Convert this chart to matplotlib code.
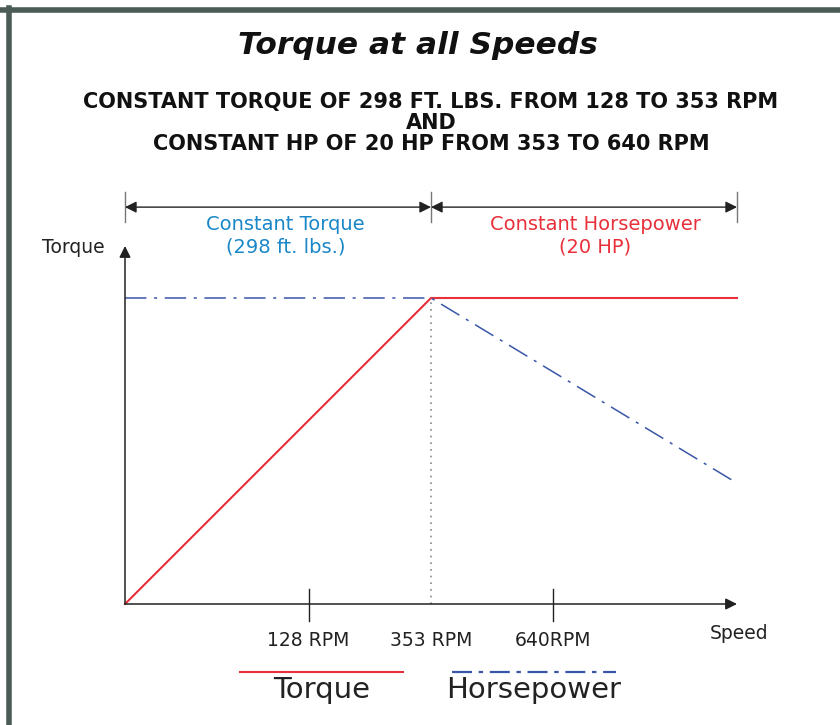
import numpy as np
import matplotlib.pyplot as plt
from matplotlib.lines import Line2D

plt.rcParams['font.family'] = ['DejaVu Sans']

# schematic speed axis (0 = origin, 1 = end of axis) and normalised torque
speed = [0.0, 0.5, 1.0]
torque = [0.0, 1.0, 1.0]
horsepower = [1.0, 1.0, 0.395]
tick_pos = [0.30, 0.50, 0.70]
tick_labels = ['128 RPM', '353 RPM', '640RPM']
marked_ticks = [0.30, 0.70]

title = 'Torque at all Speeds'
subtitle = ('CONSTANT TORQUE OF 298 FT. LBS. FROM 128 TO 353 RPM\nAND\n'
            'CONSTANT HP OF 20 HP FROM 353 TO 640 RPM')

red = '#e8303a'
blue = '#3a56a8'
cyan = '#1a87c9'
W, H = 840, 725

fig = plt.figure(figsize=(8.4, 7.25), dpi=100)
ax = fig.add_axes([125 / W, 1 - 604 / H, 612 / W, 306 / H])
ax.set_xlim(0, 1)
ax.set_ylim(0, 1)
ax.axis('off')

# frame around the figure
fig.add_artist(Line2D([0, 1], [1 - 9.5 / H] * 2, transform=fig.transFigure, color='#4b5b56', lw=4))
fig.add_artist(Line2D([8.5 / W] * 2, [0, 1 - 7.5 / H], transform=fig.transFigure, color='#4b5b56', lw=4))

# curves
ax.plot(speed, torque, color=red, lw=1.5, clip_on=False)
ax.plot(speed, horsepower, color=blue, lw=1.1, dashes=(14, 5, 2, 5), clip_on=False)
ax.plot([0.5, 0.5], [0, 1], color='#888888', lw=1.2, ls=(0, (1, 3)), clip_on=False)

# axes arrows
arrow_kw = dict(color='#222222', lw=1.1, mutation_scale=17, shrinkA=0, shrinkB=0)
ax.annotate('', xy=(1.0, 0), xytext=(0, 0), annotation_clip=False,
            arrowprops=dict(arrowstyle='-|>', **arrow_kw))
ax.annotate('', xy=(0, 1.17), xytext=(0, 0), annotation_clip=False,
            arrowprops=dict(arrowstyle='-|>', **arrow_kw))
for t in marked_ticks:
    ax.plot([t, t], [-0.055, 0.05], color='#222222', lw=1.0, clip_on=False)
for t, lab in zip(tick_pos, tick_labels):
    ax.text(t, -0.12, lab, ha='center', va='center', fontsize=13.5, color='#222222')
ax.text(-0.033, 1.165, 'Torque', ha='right', va='center', fontsize=13.5, color='#222222')
ax.text(1.003, -0.098, 'Speed', ha='center', va='center', fontsize=13.5, color='#222222')

# dimension arrows on top
dim_y = 1.297
for a, b in [(0, 0.5), (0.5, 1.0)]:
    ax.annotate('', xy=(a, dim_y), xytext=(b, dim_y), annotation_clip=False,
                arrowprops=dict(arrowstyle='<|-|>', color='#222222', lw=1.0, mutation_scale=17,
                                shrinkA=0, shrinkB=0))
for x in [0, 0.5, 1.0]:
    ax.plot([x, x], [1.248, 1.346], color='#777777', lw=1.0, clip_on=False)
ax.text(0.262, 1.203, 'Constant Torque\n(298 ft. lbs.)', ha='center', va='center',
        fontsize=14, color=cyan, linespacing=1.25)
ax.text(0.768, 1.203, 'Constant Horsepower\n(20 HP)', ha='center', va='center',
        fontsize=14, color=red, linespacing=1.25)

# titles
fig.text(418 / W, 1 - 46 / H, title, ha='center', va='center', fontsize=22.5,
         fontweight='bold', fontstyle='italic', color='#111111')
fig.text(431 / W, 1 - 123 / H, subtitle, ha='center', va='center', fontsize=15,
         fontweight='bold', color='#111111', linespacing=1.05)

# legend
fig.add_artist(Line2D([240 / W, 403 / W], [1 - 672 / H] * 2, transform=fig.transFigure, color=red, lw=1.5))
fig.add_artist(Line2D([452 / W, 616 / W], [1 - 672 / H] * 2, transform=fig.transFigure, color=blue,
                      lw=1.6, dashes=(9, 3, 2, 3)))
fig.text(322 / W, 1 - 690 / H, 'Torque', ha='center', va='center', fontsize=21, color='#222222')
fig.text(534 / W, 1 - 690 / H, 'Horsepower', ha='center', va='center', fontsize=21, color='#222222')

fig.savefig('out.png', dpi=100)
